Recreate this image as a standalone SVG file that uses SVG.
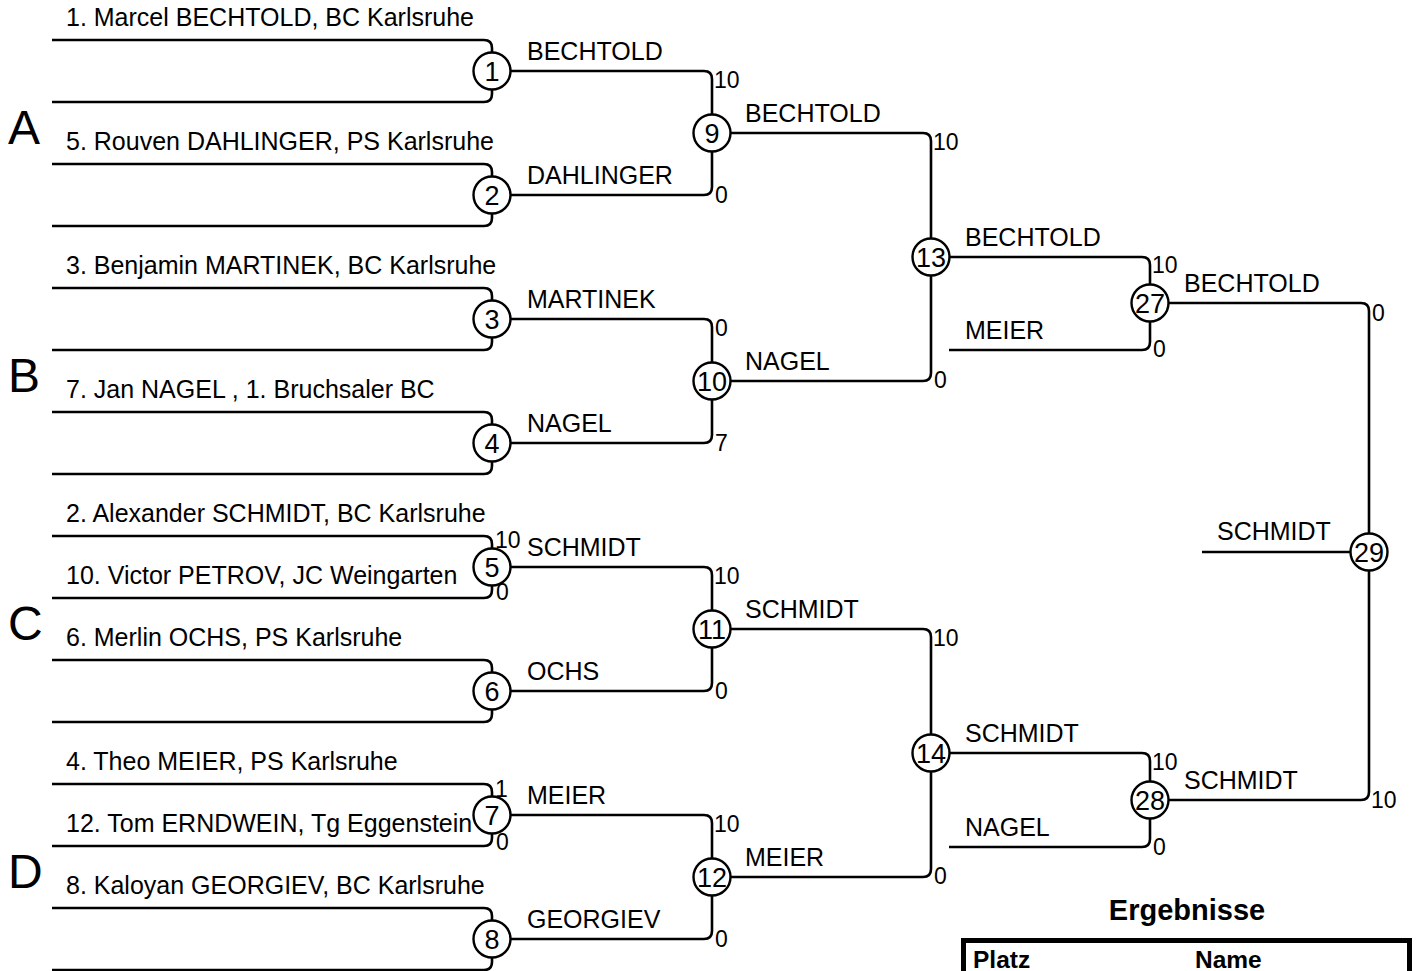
<svg xmlns="http://www.w3.org/2000/svg" width="1417" height="971" viewBox="0 0 1417 971">
<style>
text{font-family:"Liberation Sans",Arial,sans-serif;fill:#000}
.n{font-size:25px}
.s{font-size:23px}
.g{font-size:48px}
.c{font-size:27px;text-anchor:middle}
.h{font-size:29px;font-weight:bold;text-anchor:middle}
.th{font-size:24.5px;font-weight:bold}
.ln{fill:none;stroke:#000;stroke-width:2.6;stroke-linecap:butt}
circle{fill:#fff;stroke:#000;stroke-width:2.4}
</style>
<rect width="1417" height="971" fill="#fff"/>
<g id="connectors" class="ln">
<path d="M52,40 H484 Q492,40 492,48 V52.5"/>
<path d="M52,102 H484 Q492,102 492,94 V89.5"/>
<path d="M52,164 H484 Q492,164 492,172 V176.5"/>
<path d="M52,226 H484 Q492,226 492,218 V213.5"/>
<path d="M52,288 H484 Q492,288 492,296 V300.5"/>
<path d="M52,350 H484 Q492,350 492,342 V337.5"/>
<path d="M52,412 H484 Q492,412 492,420 V424.5"/>
<path d="M52,474 H484 Q492,474 492,466 V461.5"/>
<path d="M52,536 H484 Q492,536 492,544 V548.5"/>
<path d="M52,598 H484 Q492,598 492,590 V585.5"/>
<path d="M52,660 H484 Q492,660 492,668 V672.5"/>
<path d="M52,722 H484 Q492,722 492,714 V709.5"/>
<path d="M52,784 H484 Q492,784 492,792 V796.5"/>
<path d="M52,846 H484 Q492,846 492,838 V833.5"/>
<path d="M52,908 H484 Q492,908 492,916 V920.5"/>
<path d="M52,970 H484 Q492,970 492,962 V957.5"/>
<path d="M510.5,71 H704 Q712,71 712,79 V114.5"/>
<path d="M510.5,195 H704 Q712,195 712,187 V151.5"/>
<path d="M510.5,319 H704 Q712,319 712,327 V362.5"/>
<path d="M510.5,443 H704 Q712,443 712,435 V399.5"/>
<path d="M510.5,567 H704 Q712,567 712,575 V610.5"/>
<path d="M510.5,691 H704 Q712,691 712,683 V647.5"/>
<path d="M510.5,815 H704 Q712,815 712,823 V858.5"/>
<path d="M510.5,939 H704 Q712,939 712,931 V895.5"/>
<path d="M730.5,133 H923 Q931,133 931,141 V238.5"/>
<path d="M730.5,381 H923 Q931,381 931,373 V275.5"/>
<path d="M730.5,629 H923 Q931,629 931,637 V734.5"/>
<path d="M730.5,877 H923 Q931,877 931,869 V771.5"/>
<path d="M949.5,257 H1142 Q1150,257 1150,265 V284.5"/>
<path d="M949,350 H1142 Q1150,350 1150,342 V321.5"/>
<path d="M949.5,753 H1142 Q1150,753 1150,761 V781.5"/>
<path d="M949,847 H1142 Q1150,847 1150,839 V818.5"/>
<path d="M1168.5,303 H1361 Q1369,303 1369,311 V533.5"/>
<path d="M1168.5,800 H1361 Q1369,800 1369,792 V570.5"/>
<path d="M1202,552 H1350.5"/>
</g>
<g id="groups">
<text class="g" x="8" y="144">A</text>
<text class="g" x="8" y="392">B</text>
<text class="g" x="8" y="640">C</text>
<text class="g" x="8" y="888">D</text>
</g>
<g id="players">
<text class="n" x="66" y="26">1. Marcel BECHTOLD, BC Karlsruhe</text>
<text class="n" x="66" y="150">5. Rouven DAHLINGER, PS Karlsruhe</text>
<text class="n" x="66" y="274">3. Benjamin MARTINEK, BC Karlsruhe</text>
<text class="n" x="66" y="398">7. Jan NAGEL , 1. Bruchsaler BC</text>
<text class="n" x="66" y="522">2. Alexander SCHMIDT, BC Karlsruhe</text>
<text class="n" x="66" y="584">10. Victor PETROV, JC Weingarten</text>
<text class="n" x="66" y="646">6. Merlin OCHS, PS Karlsruhe</text>
<text class="n" x="66" y="770">4. Theo MEIER, PS Karlsruhe</text>
<text class="n" x="66" y="832">12. Tom ERNDWEIN, Tg Eggenstein</text>
<text class="n" x="66" y="894">8. Kaloyan GEORGIEV, BC Karlsruhe</text>
</g>
<g id="labels">
<text class="n" x="527" y="60">BECHTOLD</text>
<text class="n" x="527" y="184">DAHLINGER</text>
<text class="n" x="527" y="308">MARTINEK</text>
<text class="n" x="527" y="432">NAGEL</text>
<text class="n" x="527" y="556">SCHMIDT</text>
<text class="n" x="527" y="680">OCHS</text>
<text class="n" x="527" y="804">MEIER</text>
<text class="n" x="527" y="928">GEORGIEV</text>
<text class="n" x="745" y="122">BECHTOLD</text>
<text class="n" x="745" y="370">NAGEL</text>
<text class="n" x="745" y="618">SCHMIDT</text>
<text class="n" x="745" y="866">MEIER</text>
<text class="n" x="965" y="246">BECHTOLD</text>
<text class="n" x="965" y="339">MEIER</text>
<text class="n" x="965" y="742">SCHMIDT</text>
<text class="n" x="965" y="836">NAGEL</text>
<text class="n" x="1184" y="292">BECHTOLD</text>
<text class="n" x="1184" y="789">SCHMIDT</text>
<text class="n" x="1217" y="540">SCHMIDT</text>
</g>
<g id="scores">
<text class="s" x="495" y="548">10</text>
<text class="s" x="496" y="600">0</text>
<text class="s" x="495" y="797">1</text>
<text class="s" x="496" y="850">0</text>
<text class="s" x="714" y="88">10</text>
<text class="s" x="715" y="203">0</text>
<text class="s" x="715" y="336">0</text>
<text class="s" x="715" y="451">7</text>
<text class="s" x="714" y="584">10</text>
<text class="s" x="715" y="699">0</text>
<text class="s" x="714" y="832">10</text>
<text class="s" x="715" y="947">0</text>
<text class="s" x="933" y="150">10</text>
<text class="s" x="934" y="388">0</text>
<text class="s" x="933" y="646">10</text>
<text class="s" x="934" y="884">0</text>
<text class="s" x="1152" y="273">10</text>
<text class="s" x="1153" y="357">0</text>
<text class="s" x="1152" y="770">10</text>
<text class="s" x="1153" y="855">0</text>
<text class="s" x="1372" y="321">0</text>
<text class="s" x="1371" y="808">10</text>
</g>
<g id="m1"><circle cx="492" cy="71" r="18.5"/><text class="c" x="492" y="81">1</text></g>
<g id="m2"><circle cx="492" cy="195" r="18.5"/><text class="c" x="492" y="205">2</text></g>
<g id="m3"><circle cx="492" cy="319" r="18.5"/><text class="c" x="492" y="329">3</text></g>
<g id="m4"><circle cx="492" cy="443" r="18.5"/><text class="c" x="492" y="453">4</text></g>
<g id="m5"><circle cx="492" cy="567" r="18.5"/><text class="c" x="492" y="577">5</text></g>
<g id="m6"><circle cx="492" cy="691" r="18.5"/><text class="c" x="492" y="701">6</text></g>
<g id="m7"><circle cx="492" cy="815" r="18.5"/><text class="c" x="492" y="825">7</text></g>
<g id="m8"><circle cx="492" cy="939" r="18.5"/><text class="c" x="492" y="949">8</text></g>
<g id="m9"><circle cx="712" cy="133" r="18.5"/><text class="c" x="712" y="143">9</text></g>
<g id="m10"><circle cx="712" cy="381" r="18.5"/><text class="c" x="712" y="391">10</text></g>
<g id="m11"><circle cx="712" cy="629" r="18.5"/><text class="c" x="712" y="639">11</text></g>
<g id="m12"><circle cx="712" cy="877" r="18.5"/><text class="c" x="712" y="887">12</text></g>
<g id="m13"><circle cx="931" cy="257" r="18.5"/><text class="c" x="931" y="267">13</text></g>
<g id="m14"><circle cx="931" cy="753" r="18.5"/><text class="c" x="931" y="763">14</text></g>
<g id="m27"><circle cx="1150" cy="303" r="18.5"/><text class="c" x="1150" y="313">27</text></g>
<g id="m28"><circle cx="1150" cy="800" r="18.5"/><text class="c" x="1150" y="810">28</text></g>
<g id="m29"><circle cx="1369" cy="552" r="18.5"/><text class="c" x="1369" y="562">29</text></g>
<g id="results">
<text class="h" x="1187" y="920">Ergebnisse</text>
<rect x="963.5" y="940.5" width="446" height="100" fill="none" stroke="#000" stroke-width="5"/>
<text class="th" x="973" y="968">Platz</text>
<text class="th" x="1195" y="968">Name</text>
</g>
</svg>
